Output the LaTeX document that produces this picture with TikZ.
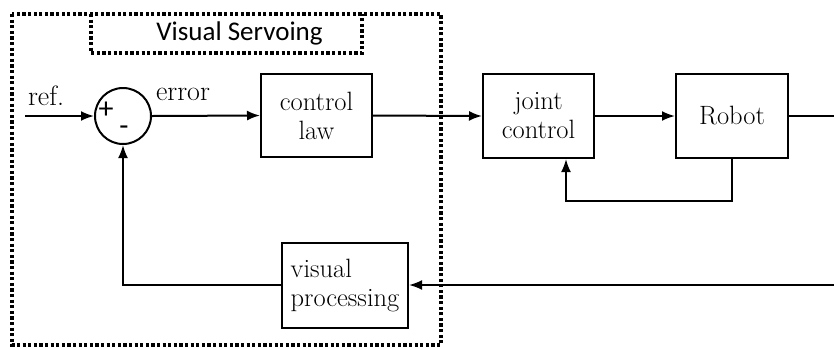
\documentclass[tikz,border=0pt]{standalone}
\usepackage{fontspec}
\newfontfamily\calib{Carlito}
\usetikzlibrary{arrows.meta}
\begin{document}
\begin{tikzpicture}[x=1pt,y=-1pt,
  line width=2pt,
  >={Latex[length=13pt,width=10pt]},
  blk/.style={draw, line width=2pt, inner sep=0pt, align=center,
    font=\fontsize{26.5}{29}\selectfont},
  dotbox/.style={draw, line width=3.6pt, dash pattern=on 3.2pt off 2.4pt},
  lbl/.style={font=\fontsize{28}{30}\selectfont, inner sep=0pt}
]
\useasboundingbox (0,0) rectangle (834,349);
% outer dotted box
\draw[dotbox] (12,14) rectangle (441,345);
\coordinate (vsA) at (91,14);
\coordinate (vsB) at (362,14);
\draw[dotbox] (vsA) -- (91,53) -- (362,53) -- (vsB);
\node[inner sep=0pt, font=\calib\fontsize{27}{30}\selectfont] (vs) at (239.5,33.5) {Visual Servoing};
% blocks
\node[draw, circle, minimum size=56pt, inner sep=0pt] (sum) at (123,116) {};
\node[font=\calib\fontsize{30}{32}\selectfont, inner sep=0pt] (plus) at (106,110) {+};
\node[font=\calib\fontsize{30}{32}\selectfont, inner sep=0pt] (minus) at (124,131) {-};
\node[blk, minimum width=111pt, minimum height=83pt] (cl) at (316.5,115.5) {control\\law};
\node[blk, minimum width=111pt, minimum height=84pt] (jc) at (538.5,116) {joint\\control};
\node[blk, minimum width=112pt, minimum height=84pt] (rob) at (732,116) {Robot};
\node[blk, minimum width=126pt, minimum height=85pt, align=left] (vp) at (345,285) {visual\\processing};
% labels
\node[lbl, anchor=base west] (ref) at (27,105) {ref.};
\node[lbl, anchor=base west] (err) at (155,100) {error};
% coordinates
\coordinate (refin) at (25,116);
\coordinate (outR) at (845,116);
\coordinate (outB) at (845,285);
% connectors
\draw[->] (refin) -- (sum.west);
\draw[->] (sum.east) -- (cl.west);
\draw[->] (cl.east) -- (jc.west);
\draw[->] (jc.east) -- (rob.west);
\draw[->] (rob.south) -- ++(0,42) -| ([xshift=27.5pt]jc.south);
\draw (rob.east) -- (outR) -- (outB);
\draw[->] (outB) -- (vp.east);
\draw[->] (vp.west) -| (sum.south);
\end{tikzpicture}
\end{document}
